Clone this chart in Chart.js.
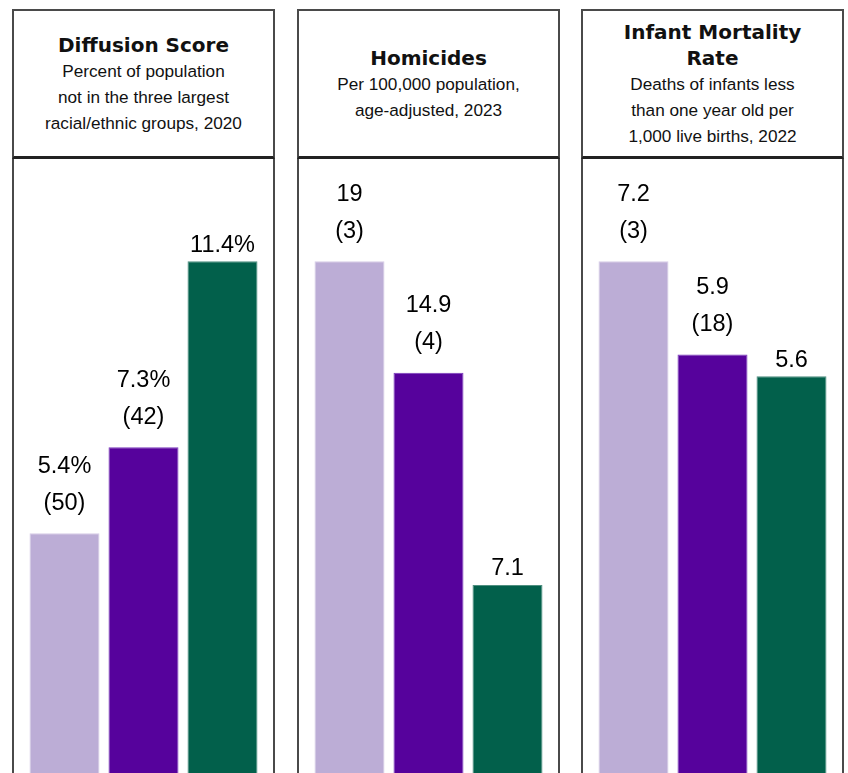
<!DOCTYPE html>
<html>
<head>
<meta charset="utf-8">
<script src="https://cdn.jsdelivr.net/npm/chart.js@4"></script>
<style>
    html, body { margin: 0; padding: 0; background: #fff; overflow: hidden; }
    body { width: 848px; height: 773px; position: relative; }
    .head {
        position: absolute; top: 9px; width: 263px; height: 150px;
        box-sizing: border-box; border: 2px solid #4a4a4a; border-bottom: 3px solid #222;
        display: flex; flex-direction: column; justify-content: center; align-items: center;
        text-align: center; color: #111;
    }
    .head .t { font-family: "DejaVu Sans", sans-serif; font-weight: bold; font-size: 20px; line-height: 26px; }
    .head .s { font-family: "Liberation Sans", Arial, sans-serif; font-size: 17.2px; line-height: 26px; }
    .box {
        position: absolute; top: 159px; width: 263px; height: 700px;
        box-sizing: border-box; border-left: 2px solid #4a4a4a; border-right: 2px solid #4a4a4a;
    }
    canvas { position: absolute; top: 158px; }
</style>
</head>
<body>

<div class="head" style="left:12px">
    <div class="t">Diffusion Score</div>
    <div class="s">Percent of population<br>not in the three largest<br>racial/ethnic groups, 2020</div>
</div>
<div class="box" style="left:12px"></div>
<canvas id="diffusionChart" width="237" height="620" style="left:25px"></canvas>

<div class="head" style="left:297px">
    <div class="t">Homicides</div>
    <div class="s">Per 100,000 population,<br>age-adjusted, 2023</div>
</div>
<div class="box" style="left:297px"></div>
<canvas id="homicidesChart" width="237" height="620" style="left:310px"></canvas>

<div class="head" style="left:581px">
    <div class="t">Infant Mortality<br>Rate</div>
    <div class="s">Deaths of infants less<br>than one year old per<br>1,000 live births, 2022</div>
</div>
<div class="box" style="left:581px"></div>
<canvas id="infantChart" width="237" height="620" style="left:594px"></canvas>

<script>
const categories = ['Area 1', 'Area 2', 'Comparison'];

const diffusionValues = [5.4, 7.3, 11.4];
const diffusionRanks = [50, 42, null];

const homicideValues = [19, 14.9, 7.1];
const homicideRanks = [3, 4, null];

const infantValues = [7.2, 5.9, 5.6];
const infantRanks = [3, 18, null];

const barColors = ['#bcadd6', '#56029c', '#02604b'];
const barBorders = ['#d6cce6', '#7a3abd', '#4f8f80'];

// draws the value and the rank in brackets above each bar
const barLabels = {
    id: 'barLabels',
    afterDatasetsDraw(chart, args, opts) {
        const ctx = chart.ctx;
        const meta = chart.getDatasetMeta(0);
        ctx.save();
        ctx.font = '23.5px "Liberation Sans", Arial, sans-serif';
        ctx.fillStyle = '#000';
        ctx.textAlign = 'center';
        ctx.textBaseline = 'middle';
        meta.data.forEach((bar, i) => {
            const val = chart.data.datasets[0].data[i] + opts.suffix;
            const rank = opts.ranks[i];
            if (rank != null) {
                ctx.fillText(val, bar.x, bar.y - 67);
                ctx.fillText('(' + rank + ')', bar.x, bar.y - 30);
            } else {
                ctx.fillText(val, bar.x, bar.y - 16);
            }
        });
        ctx.restore();
    }
};

function makeChart(id, values, ranks, suffix) {
    const el = document.getElementById(id);
    return new Chart(el, {
        type: 'bar',
        data: {
            labels: categories,
            datasets: [
                {
                    data: values,
                    backgroundColor: barColors,
                    borderColor: barBorders,
                    borderWidth: 1,
                    categoryPercentage: 1.0,
                    barPercentage: 0.886
                }
            ]
        },
        options: {
            responsive: false,
            animation: false,
            layout: { padding: 0 },
            plugins: {
                legend: { display: false },
                tooltip: { enabled: false },
                barLabels: { ranks: ranks, suffix: suffix }
            },
            scales: {
                x: { display: false },
                y: {
                    display: false,
                    min: 0,
                    max: Math.max(...values) * 1.2
                }
            }
        },
        plugins: [barLabels]
    });
}

makeChart('diffusionChart', diffusionValues, diffusionRanks, '%');
makeChart('homicidesChart', homicideValues, homicideRanks, '');
makeChart('infantChart', infantValues, infantRanks, '');
</script>
</body>
</html>
